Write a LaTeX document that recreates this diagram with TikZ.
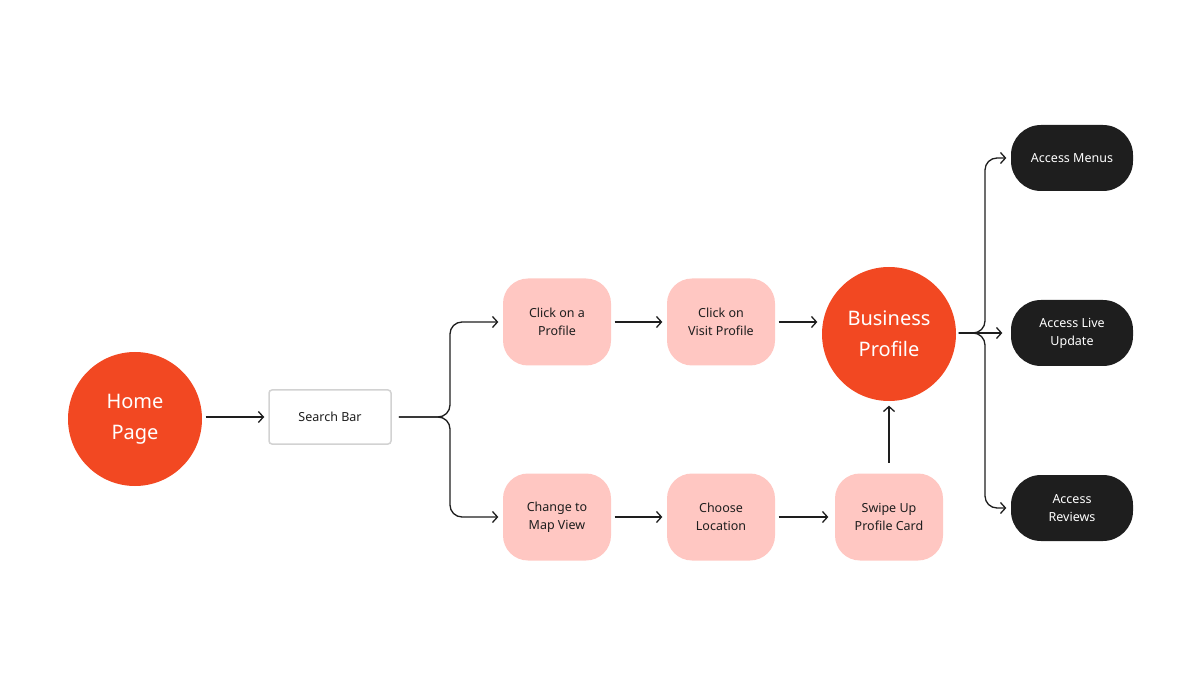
\documentclass[tikz,border=0pt]{standalone}
\usepackage{fontspec}
\setmainfont{Noto Sans}
\usepackage{tikz}
\usetikzlibrary{arrows.meta}
\usetikzlibrary{calc}

\definecolor{hot}{HTML}{F24822}
\definecolor{blush}{HTML}{FFC7C2}
\definecolor{ink}{HTML}{1E1E1E}
\definecolor{edge}{HTML}{D2D2D2}

\begin{document}
\begin{tikzpicture}[x=1pt, y=-1pt, line width=1.3pt,
    big/.style = {circle, fill=hot, text=white, minimum size=134pt, inner sep=0pt, align=center, font=\fontsize{20}{31}\selectfont},
    bar/.style = {rectangle, draw=edge, line width=1.5pt, fill=white, rounded corners=3pt, minimum width=122pt, minimum height=54pt, text=ink, font=\fontsize{12.5}{18}\selectfont},
    pink/.style = {rectangle, fill=blush, rounded corners=25pt, minimum width=108pt, minimum height=87pt, inner sep=0pt, align=center, text=ink, font=\fontsize{12.5}{18}\selectfont},
    dark/.style = {rectangle, fill=ink, rounded corners=30pt, minimum width=122pt, minimum height=66pt, inner sep=0pt, align=center, text=white, font=\fontsize{12.5}{18}\selectfont},
    arr/.style = {draw=ink, -{Straight Barb[length=5pt, width=11pt]}, shorten >=4pt, shorten <=3pt}]
    \useasboundingbox (0, 0) rectangle (1200, 676);

    \node [big] (0) at (135, 419) {Home\\Page};
    \node [bar] (1) at (330, 417) {Search Bar};
    \node [pink] (2) at (557, 322) {Click on a\\Profile};
    \node [pink] (3) at (721, 322) {Click on\\Visit Profile};
    \node [big] (4) at (889, 334) {Business\\Profile};
    \node [pink] (5) at (557, 517) {Change to\\Map View};
    \node [pink] (6) at (721, 517) {Choose\\Location};
    \node [pink] (7) at (889, 517) {Swipe Up\\Profile Card};
    \node [dark] (8) at (1072, 158) {Access Menus};
    \node [dark] (9) at (1072, 333) {Access Live\\Update};
    \node [dark] (10) at (1072, 508) {Access\\Reviews};

    \coordinate (s) at (450, 417);
    \coordinate (t) at (985, 333);

    \draw[arr] (0.east |- 1) -- (1);
    \draw[arr, shorten <=7pt, rounded corners=12pt] (1) -- (s) |- (2);
    \draw[arr, shorten <=7pt, rounded corners=12pt] (1) -- (s) |- (5);
    \draw[arr] (2) -- (3);
    \draw[arr] (3) -- (3 -| 4.west);
    \draw[arr] (5) -- (6);
    \draw[arr, shorten >=6pt] (6) -- (7);
    \draw[arr, shorten <=10pt] (7) -- (4);
    \draw[arr, shorten <=2pt, rounded corners=12pt] (4.east |- t) -- (t) |- (8);
    \draw[arr, shorten <=2pt, shorten >=8pt] (4.east |- t) -- (9);
    \draw[arr, shorten <=2pt, rounded corners=12pt] (4.east |- t) -- (t) |- (10);

\end{tikzpicture}
\end{document}
